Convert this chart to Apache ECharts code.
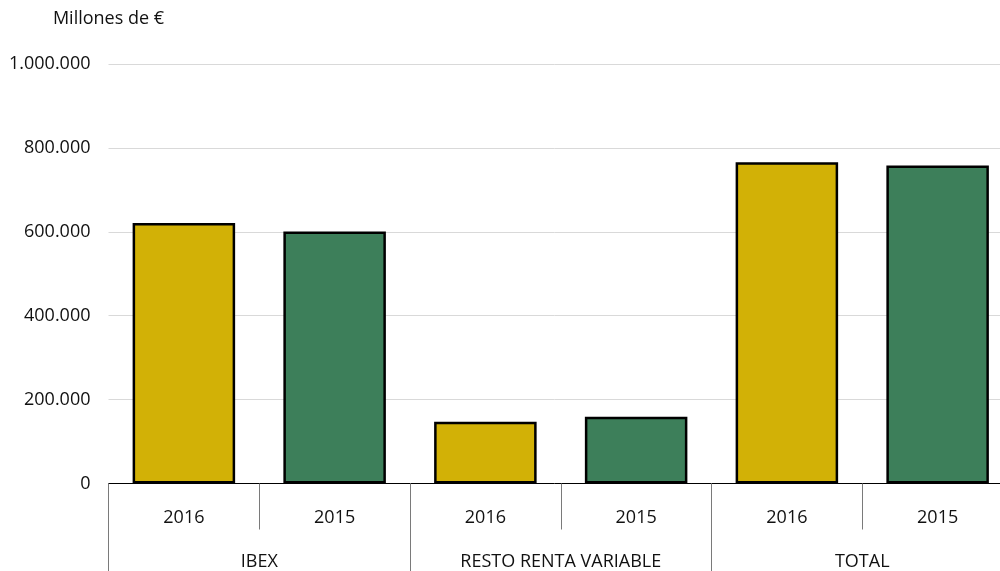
<!DOCTYPE html>
<html>
<head>
<meta charset="utf-8">
<script src="https://cdn.jsdelivr.net/npm/echarts@6/dist/echarts.min.js"></script>
<style>
  html, body { margin: 0; padding: 0; background: #fff; }
  #chart { width: 1000px; height: 571px; }
</style>
</head>
<body>
<div id="chart"></div>
<script>
const years = ["2016", "2015", "2016", "2015", "2016", "2015"];
const groups = ["IBEX", "RESTO RENTA VARIABLE", "TOTAL"];
const values = [621000, 601000, 147000, 159000, 766000, 758000];
const yearColors = { "2016": "#D2B106", "2015": "#3D7F5A" };

const font = "'Open Sans', 'Noto Sans', sans-serif";
const chart = echarts.init(document.getElementById("chart"));

const fmt = (v) => String(v).replace(/\B(?=(\d{3})+(?!\d))/g, ".");

chart.setOption({
  animation: false,
  textStyle: { fontFamily: font },
  // plot runs a bit past the right edge of the canvas, like the original
  grid: { left: 108.5, width: 904.5, top: 64, bottom: 87.5, outerBoundsMode: "none" },
  xAxis: [
    {
      type: "category",
      data: years,
      axisLine: { lineStyle: { color: "#000", width: 1 } },
      axisTick: { show: true, interval: 0, length: 46, lineStyle: { color: "#7a7a7a" } },
      axisLabel: { interval: 0, margin: 25, fontSize: 18, color: "#111", fontFamily: font }
    },
    {
      type: "category",
      data: groups,
      position: "bottom",
      axisLine: { show: false },
      axisTick: { show: true, interval: 0, length: 88, lineStyle: { color: "#7a7a7a" } },
      axisLabel: { interval: 0, margin: 69, fontSize: 18, color: "#111", fontFamily: font }
    }
  ],
  yAxis: {
    type: "value",
    min: 0,
    max: 1000000,
    interval: 200000,
    name: "Millones de €",
    nameLocation: "end",
    nameGap: 36,
    nameTextStyle: { fontSize: 18, color: "#111", fontFamily: font },
    axisLine: { show: false },
    axisTick: { show: false },
    axisLabel: { margin: 18, fontSize: 18, color: "#111", fontFamily: font, formatter: fmt },
    splitLine: { lineStyle: { color: "#d9d9d9", width: 1 } }
  },
  series: [
    {
      type: "bar",
      xAxisIndex: 0,
      barCategoryGap: "32%",
      data: values.map((v, i) => ({
        value: v,
        itemStyle: { color: yearColors[years[i]] }
      })),
      itemStyle: { borderColor: "#000", borderWidth: 2.5 }
    }
  ]
});

window.addEventListener("resize", () => chart.resize());
</script>
</body>
</html>
